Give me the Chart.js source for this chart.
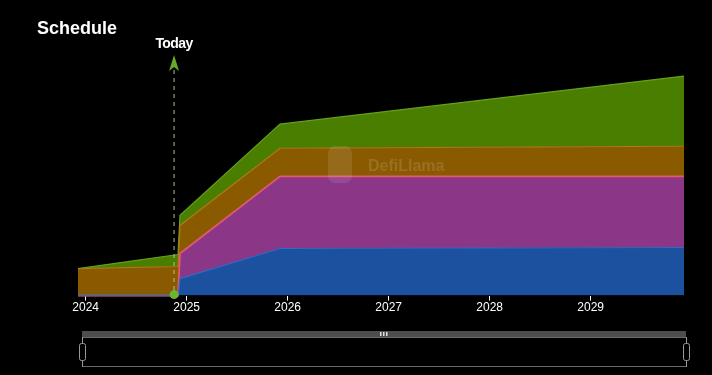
<!DOCTYPE html>
<html>
<head>
<meta charset="utf-8">
<script src="https://cdn.jsdelivr.net/npm/chart.js@4/dist/chart.umd.min.js"></script>
<style>
  html, body { margin: 0; padding: 0; background: #000; }
  #wrap { width: 712px; height: 375px; }
</style>
</head>
<body>
<div id="wrap"><canvas id="schedule" width="712" height="375"></canvas></div>
<script>
// time in decimal years (unlock points)
const dates = [2023.924, 2024.914, 2024.934, 2025.924, 2029.924];
const yearTicks = [2024, 2025, 2026, 2027, 2028, 2029];
const todayValue = 2024.875;

// stacked unlock amounts (M tokens), bottom to top
const seriesNames = ['Investors', 'Contributors', 'Airdrop', 'Ecosystem'];
const investors = [0, 0, 17, 47, 48];
const contributors = [0, 0, 25, 72, 71];
const airdrop = [27, 29, 28, 28, 30];
const ecosystem = [0, 12, 10, 24, 70];

const fills = ['#1b519f', '#8b3686', '#8a5a00', '#4a7e00'];
const lines = ['#3569c4', '#e05a6c', '#b07a18', '#66a01c'];

function toPoints(vals) {
  return vals.map((v, i) => ({ x: dates[i], y: v }));
}

const allSeries = [investors, contributors, airdrop, ecosystem];

const decorations = {
  id: 'decorations',
  afterDatasetsDraw(chart) {
    const ctx = chart.ctx;
    const x = chart.scales.x;
    const base = chart.scales.y.getPixelForValue(0);

    // watermark
    ctx.save();
    ctx.fillStyle = 'rgba(255,255,255,0.1)';
    ctx.beginPath();
    ctx.roundRect(328, 146, 24, 37, 7);
    ctx.fill();
    ctx.fillStyle = 'rgba(255,255,255,0.13)';
    ctx.font = 'bold 16px "Liberation Sans", Arial, sans-serif';
    ctx.textBaseline = 'middle';
    ctx.fillText('DefiLlama', 368, 167);
    ctx.restore();

    // today marker
    const tx = x.getPixelForValue(todayValue);
    ctx.save();
    ctx.strokeStyle = '#a9c48f';
    ctx.lineWidth = 1;
    ctx.setLineDash([4, 4]);
    ctx.beginPath();
    ctx.moveTo(tx, 70);
    ctx.lineTo(tx, base - 4);
    ctx.stroke();
    ctx.setLineDash([]);
    ctx.fillStyle = '#6aa82a';
    ctx.beginPath();
    ctx.moveTo(tx, 55);
    ctx.lineTo(tx + 5, 71);
    ctx.lineTo(tx, 67);
    ctx.lineTo(tx - 5, 71);
    ctx.closePath();
    ctx.fill();
    ctx.fillStyle = '#fff';
    ctx.font = 'bold 14px "Liberation Sans", Arial, sans-serif';
    ctx.letterSpacing = '-0.6px';
    ctx.textAlign = 'center';
    ctx.textBaseline = 'alphabetic';
    ctx.fillText('Today', tx, 48);
    ctx.letterSpacing = '0px';
    ctx.fillStyle = '#6cb52d';
    ctx.beginPath();
    ctx.arc(tx, base - 1, 4.5, 0, Math.PI * 2);
    ctx.fill();
    ctx.restore();
  },
  afterDraw(chart) {
    const ctx = chart.ctx;
    ctx.save();
    // title
    ctx.fillStyle = '#fff';
    ctx.font = 'bold 18px "Liberation Sans", Arial, sans-serif';
    ctx.fillText('Schedule', 37, 34);

    // data zoom slider
    const l = 82, r = 686;
    ctx.fillStyle = '#4d4d4d';
    ctx.fillRect(l, 331, r - l, 6);
    ctx.strokeStyle = '#6a6a6a';
    ctx.lineWidth = 1;
    ctx.beginPath();
    ctx.moveTo(l, 337.5); ctx.lineTo(r, 337.5);
    ctx.moveTo(l, 366.5); ctx.lineTo(r, 366.5);
    ctx.stroke();
    ctx.strokeStyle = '#9a9a9a';
    [l, r].forEach(hx => {
      ctx.beginPath();
      ctx.moveTo(hx + 0.5, 337); ctx.lineTo(hx + 0.5, 343);
      ctx.moveTo(hx + 0.5, 361); ctx.lineTo(hx + 0.5, 367);
      ctx.stroke();
      ctx.fillStyle = '#000';
      ctx.beginPath();
      ctx.roundRect(hx - 2.5, 343.5, 6, 17, 2);
      ctx.fill();
      ctx.stroke();
    });
    ctx.fillStyle = '#ddd';
    [380, 383, 386].forEach(gx => ctx.fillRect(gx, 332, 1.5, 4));
    ctx.restore();
  }
};

new Chart(document.getElementById('schedule'), {
  type: 'line',
  data: {
    datasets: allSeries.map((vals, i) => ({
      label: seriesNames[i],
      data: toPoints(vals),
      backgroundColor: fills[i],
      borderColor: lines[i],
      borderWidth: i === 1 ? 1.8 : 1.2,
      fill: i === 0 ? 'origin' : '-1',
      pointRadius: 0,
      tension: 0,
      clip: false
    }))
  },
  options: {
    responsive: false,
    animation: false,
    layout: { padding: { left: 78, right: 28, top: 55, bottom: 60 } },
    plugins: {
      legend: { display: false },
      tooltip: { enabled: false },
      filler: { drawTime: 'beforeDatasetsDraw' }
    },
    scales: {
      x: {
        type: 'linear',
        min: dates[0],
        max: dates[dates.length - 1],
        afterBuildTicks: (scale) => { scale.ticks = yearTicks.map(v => ({ value: v })); },
        grid: { display: true, drawOnChartArea: false, drawTicks: true, tickLength: 5, color: '#fff' },
        border: { display: false },
        ticks: {
          color: '#fff',
          padding: 0,
          autoSkip: false,
          maxRotation: 0,
          font: { family: '"Liberation Sans", Arial, sans-serif', size: 12 },
          callback: (v) => String(v)
        }
      },
      y: {
        display: false,
        stacked: true,
        min: 0,
        max: 240
      }
    }
  },
  plugins: [decorations]
});
</script>
</body>
</html>
